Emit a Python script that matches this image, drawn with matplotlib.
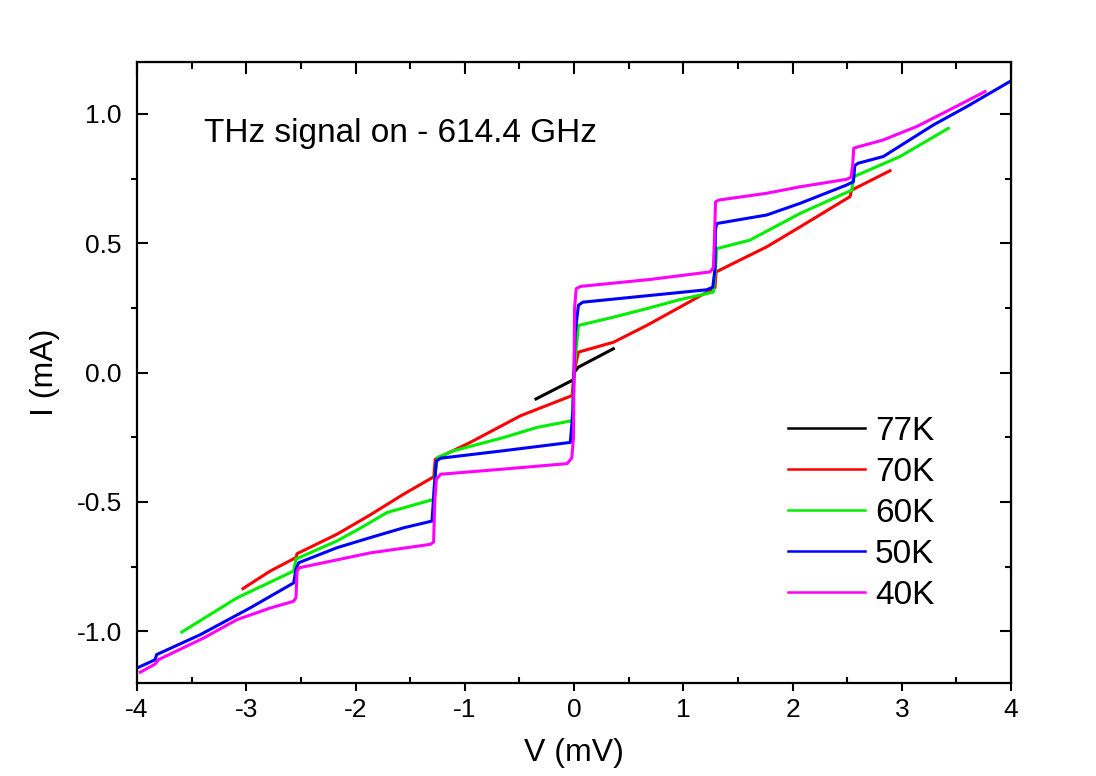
import matplotlib
matplotlib.use("Agg")
import matplotlib.pyplot as plt
from matplotlib.ticker import MultipleLocator

plt.rcParams['font.family'] = ['Liberation Sans', 'DejaVu Sans']
plt.rcParams['axes.unicode_minus'] = False

# I-V curves (V in mV, I in mA)
v77 = [-0.348, -0.006, 0.0, 0.04, 0.36]
i77 = [-0.102, -0.028, 0.0, 0.021, 0.092]

v70 = [-3.03, -2.78, -2.545, -2.535, -2.17, -1.865, -1.56, -1.284, -1.27, -0.95, -0.49,
       -0.018, 0.0, 0.04, 0.36, 0.665, 0.97, 1.29, 1.30, 1.764, 2.069, 2.526, 2.54, 2.892]
i70 = [-0.835, -0.767, -0.715, -0.70, -0.625, -0.55, -0.47, -0.403, -0.335, -0.27, -0.167,
       -0.089, 0.0, 0.079, 0.117, 0.182, 0.253, 0.328, 0.389, 0.486, 0.563, 0.68, 0.705, 0.78]

v60 = [-3.59, -3.085, -2.566, -2.545, -2.52, -2.17, -1.95, -1.712, -1.284, -1.275, -1.25, -1.10,
       -0.644, -0.339, -0.018, 0.0, 0.04, 0.36, 0.665, 0.97, 1.275, 1.295, 1.306, 1.611, 2.069,
       2.542, 2.56, 2.984, 3.426]
i60 = [-1.003, -0.871, -0.767, -0.72, -0.716, -0.651, -0.6, -0.541, -0.49, -0.40, -0.328, -0.302,
       -0.251, -0.212, -0.186, 0.0, 0.182, 0.214, 0.247, 0.282, 0.311, 0.40, 0.479, 0.512, 0.615,
       0.705, 0.757, 0.835, 0.944]

v50 = [-4.0, -3.835, -3.82, -3.42, -2.966, -2.566, -2.545, -2.52, -2.17, -1.865, -1.56, -1.30,
       -1.28, -1.26, -1.22, -0.644, -0.034, -0.01, 0.01, 0.04, 0.08, 1.215, 1.27, 1.29, 1.294,
       1.306, 1.764, 2.069, 2.496, 2.557, 2.57, 2.60, 2.831, 3.289, 3.595, 3.99]
i50 = [-1.142, -1.11, -1.09, -1.013, -0.91, -0.813, -0.76, -0.735, -0.677, -0.638, -0.60, -0.574,
       -0.45, -0.341, -0.331, -0.302, -0.27, -0.15, 0.15, 0.26, 0.272, 0.32, 0.33, 0.40, 0.55,
       0.576, 0.609, 0.654, 0.725, 0.738, 0.80, 0.809, 0.835, 0.957, 1.028, 1.125]

v40 = [-3.97, -3.835, -3.805, -3.39, -3.085, -2.78, -2.566, -2.545, -2.535, -2.52, -1.865,
       -1.315, -1.285, -1.275, -1.26, -1.22, -0.644, -0.064, -0.02, -0.005, 0.005, 0.02, 0.06,
       0.70, 1.245, 1.275, 1.284, 1.295, 1.33, 1.764, 2.069, 2.496, 2.535, 2.55, 2.56, 2.588,
       2.83, 3.137, 3.44, 3.762]
i40 = [-1.158, -1.127, -1.110, -1.026, -0.955, -0.91, -0.884, -0.87, -0.77, -0.755, -0.697,
       -0.664, -0.655, -0.50, -0.412, -0.393, -0.373, -0.352, -0.33, -0.25, 0.25, 0.324, 0.333,
       0.36, 0.389, 0.405, 0.50, 0.66, 0.667, 0.693, 0.718, 0.747, 0.755, 0.80, 0.867, 0.871,
       0.899, 0.951, 1.016, 1.086]

labels = ['77K', '70K', '60K', '50K', '40K']
colors = ['black', '#FF0000', '#00EE00', '#0000FF', '#FF00FF']
curves = [(v77, i77), (v70, i70), (v60, i60), (v50, i50), (v40, i40)]

fig = plt.figure(figsize=(10.96, 7.76), dpi=100)
ax = fig.add_axes([0.125, 0.1198, 0.7975, 0.8002])

lines = []
for (v, i), c, lab in zip(curves, colors, labels):
    ln, = ax.plot(v, i, color=c, lw=2.2, label=lab, solid_joinstyle='round')
    lines.append(ln)

ax.set_xlim(-4, 4)
ax.set_ylim(-1.2, 1.2)
ax.xaxis.set_major_locator(MultipleLocator(1))
ax.xaxis.set_minor_locator(MultipleLocator(0.5))
ax.yaxis.set_major_locator(MultipleLocator(0.5))
ax.yaxis.set_minor_locator(MultipleLocator(0.25))
ax.yaxis.set_major_formatter(matplotlib.ticker.FormatStrFormatter('%.1f'))

ax.tick_params(axis='x', which='major', direction='out', length=6, width=1.5, labelsize=19, pad=5)
ax.tick_params(axis='x', which='minor', direction='in', length=4.5, width=1.5)
ax.tick_params(axis='y', which='major', direction='in', length=8, width=1.5, labelsize=19, pad=11)
ax.tick_params(axis='y', which='minor', direction='out', length=4.5, width=1.5)
for s in ax.spines.values():
    s.set_linewidth(1.6)

top = ax.secondary_xaxis('top')
top.xaxis.set_major_locator(MultipleLocator(1))
top.xaxis.set_minor_locator(MultipleLocator(0.5))
top.tick_params(which='major', direction='in', length=8.5, width=1.5, labeltop=False)
top.tick_params(which='minor', direction='in', length=5, width=1.5)
right = ax.secondary_yaxis('right')
right.yaxis.set_major_locator(MultipleLocator(0.5))
right.yaxis.set_minor_locator(MultipleLocator(0.25))
right.tick_params(which='major', direction='in', length=8, width=1.5, labelright=False)
right.tick_params(which='minor', direction='in', length=4, width=1.5)

ax.set_xlabel('V (mV)', fontsize=23, labelpad=11)
ax.set_ylabel('I (mA)', fontsize=23, labelpad=12)

ax.text(0.0767, 0.871, 'THz signal on - 614.4 GHz', transform=ax.transAxes,
        fontsize=24, ha='left', va='baseline')

leg = ax.legend(handles=lines, loc='upper left', bbox_to_anchor=(0.745, 0.43),
                frameon=False, fontsize=24, handlelength=2.3, handletextpad=0.3,
                labelspacing=0.3, borderpad=0, borderaxespad=0)
for h in leg.get_lines():
    h.set_linewidth(1.8)

fig.savefig('out.png', dpi=100)
